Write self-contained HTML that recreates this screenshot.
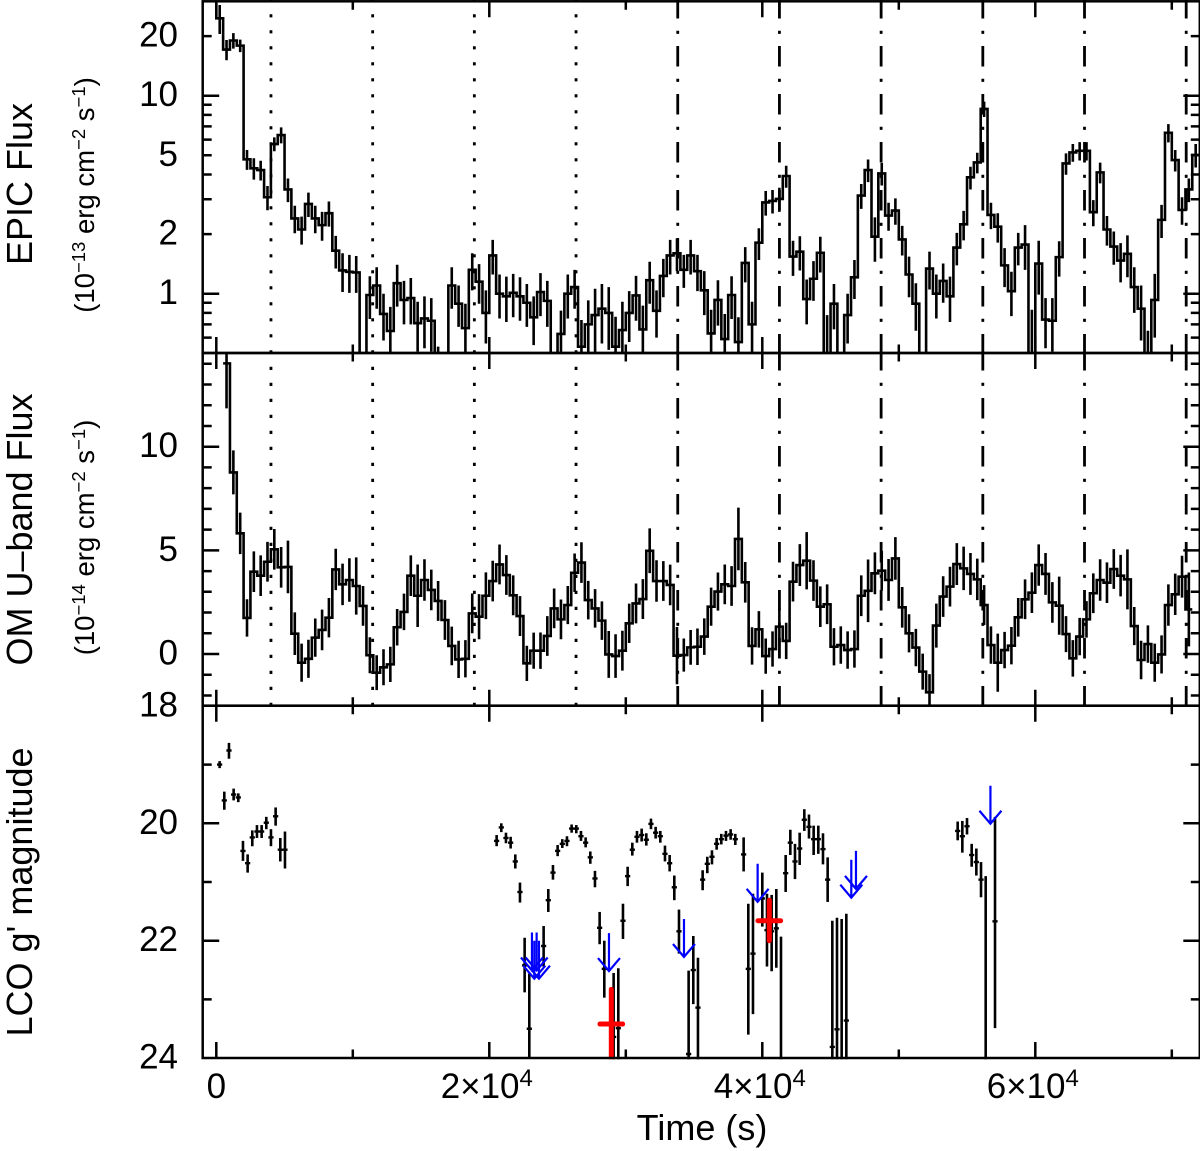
<!DOCTYPE html>
<html lang="en">
<head>
<meta charset="utf-8">
<title>EPIC, OM and LCO light curves</title>
<style>
html,body{margin:0;padding:0;background:#fff;}
svg{display:block;}
text{font-family:"Liberation Sans",Arial,sans-serif;fill:#000;}
.tick{font-size:35px;}
.title{font-size:36px;}
.sub{font-size:27.5px;}
.sup{font-size:18.5px;}
.xsup{font-size:24px;}
</style>
</head>
<body>
<svg id="chart" xmlns="http://www.w3.org/2000/svg" width="1200" height="1151" viewBox="0 0 1200 1151">
  <defs>
    <clipPath id="clip-epic"><rect x="202.7" y="1.3" width="998" height="351.7"/></clipPath>
    <clipPath id="clip-om"><rect x="202.7" y="353" width="998" height="352.7"/></clipPath>
    <clipPath id="clip-lco"><rect x="202.7" y="705.7" width="998" height="353.5"/></clipPath>
  </defs>
  <rect x="0" y="0" width="1200" height="1151" fill="#fff"/>
  <g id="fold-lines"></g>
  <g id="epic-marks" clip-path="url(#clip-epic)"></g>
  <g id="om-marks" clip-path="url(#clip-om)"></g>
  <g id="lco-marks" clip-path="url(#clip-lco)"></g>
  <g id="axes"></g>
  <g id="labels"></g>

  <text class="title" transform="translate(32,184) rotate(-90)" text-anchor="middle">EPIC Flux</text>
  <text class="sub" transform="translate(94,195) rotate(-90)" text-anchor="middle">(10<tspan class="sup" dy="-9">−13</tspan><tspan dy="9"> erg cm</tspan><tspan class="sup" dy="-9">−2</tspan><tspan dy="9"> s</tspan><tspan class="sup" dy="-9">−1</tspan><tspan dy="9">)</tspan></text>
  <text class="title" transform="translate(32,529.5) rotate(-90)" text-anchor="middle">OM U–band Flux</text>
  <text class="sub" transform="translate(94,537.5) rotate(-90)" text-anchor="middle">(10<tspan class="sup" dy="-9">−14</tspan><tspan dy="9"> erg cm</tspan><tspan class="sup" dy="-9">−2</tspan><tspan dy="9"> s</tspan><tspan class="sup" dy="-9">−1</tspan><tspan dy="9">)</tspan></text>
  <text class="title" transform="translate(32,892) rotate(-90)" text-anchor="middle">LCO g' magnitude</text>
  <text class="title" x="702" y="1140" text-anchor="middle">Time (s)</text>
</svg>
<script>
// EPIC flux per 500 s bin (10^-13 erg cm^-2 s^-1)
const epicFlux=[24.6,17.1,19.0,17.9,4.77,4.30,4.21,3.07,5.70,6.33,3.36,2.40,2.11,2.84,2.40,2.22,2.55,1.65,1.31,1.29,1.28,0.36,0.985,1.10,0.79,0.648,1.13,0.93,0.95,0.71,0.75,0.73,0.42,0.30,1.10,0.89,0.67,1.32,1.15,0.80,1.56,1.00,0.97,1.01,0.97,0.90,0.76,1.02,0.92,0.38,0.626,1.00,1.08,0.54,0.70,0.78,0.84,0.80,0.54,0.655,0.80,0.98,0.66,1.17,0.82,1.23,1.56,1.60,1.32,1.56,1.30,1.04,0.63,0.93,0.59,0.985,0.57,1.43,0.70,1.81,2.89,2.94,3.01,3.93,1.54,1.63,0.94,1.19,1.61,0.45,0.89,0.30,0.78,1.21,3.13,4.21,1.94,4.05,2.48,2.63,1.88,1.25,0.89,0.35,1.34,1.00,1.16,0.97,1.71,2.24,3.87,4.60,8.57,2.50,2.18,1.39,1.03,1.71,1.77,0.45,1.42,0.74,0.73,1.53,4.55,5.17,5.27,5.27,2.58,4.10,2.11,1.73,1.47,1.59,1.08,0.84,0.45,0.93,2.36,6.50,4.73,2.65,3.36,5.02];
const epicErr=[4.1,2.0,1.7,1.3,0.55,0.53,0.48,0.43,0.46,0.59,0.46,0.38,0.34,0.40,0.38,0.37,0.37,0.31,0.29,0.28,0.27,0.08,0.24,0.26,0.21,0.21,0.27,0.23,0.25,0.20,0.22,0.22,0.12,0.10,0.26,0.21,0.22,0.28,0.26,0.24,0.31,0.25,0.25,0.25,0.24,0.22,0.21,0.25,0.24,0.10,0.195,0.25,0.24,0.197,0.225,0.28,0.28,0.28,0.225,0.255,0.23,0.25,0.21,0.28,0.22,0.27,0.31,0.30,0.25,0.31,0.27,0.26,0.20,0.24,0.20,0.24,0.19,0.29,0.21,0.33,0.41,0.40,0.42,0.50,0.31,0.32,0.24,0.27,0.33,0.33,0.23,0.10,0.22,0.27,0.45,0.55,0.49,0.53,0.40,0.40,0.32,0.29,0.24,0.10,0.29,0.25,0.26,0.25,0.32,0.38,0.51,0.55,0.76,0.38,0.37,0.31,0.26,0.32,0.45,0.38,0.43,0.21,0.22,0.31,0.56,0.53,0.56,0.56,0.39,0.49,0.36,0.33,0.33,0.38,0.28,0.26,0.20,0.33,0.45,0.69,0.59,0.42,0.46,0.68];

// OM U-band flux per 500 s bin (10^-14 erg cm^-2 s^-1); null = no bin
const omFlux=[null,14.02,8.76,5.82,1.74,3.97,3.78,4.45,5.05,4.18,4.20,0.98,-0.42,-0.23,0.79,1.16,1.75,4.08,3.36,3.57,3.28,2.32,-0.06,-0.90,-0.64,-0.50,1.29,2.03,3.78,2.81,3.57,3.09,2.56,1.64,0.39,-0.26,-0.23,1.96,1.80,2.81,3.52,4.32,3.81,2.83,1.83,-0.45,0.16,0.16,0.87,2.20,1.67,2.36,3.92,4.41,2.60,2.20,1.61,-0.02,-0.10,0.16,1.48,2.44,2.65,4.98,3.52,3.52,3.33,-0.08,-0.05,0.32,0.35,0.84,2.28,3.01,3.36,3.28,5.55,3.46,0.39,1.19,-0.10,0.24,1.32,0.63,3.49,4.29,4.50,3.54,2.28,2.40,0.35,0.43,0.19,0.24,2.81,3.05,3.89,4.02,3.57,4.61,2.25,1.00,0.31,-0.85,-1.85,1.37,2.77,3.25,4.34,4.13,3.86,3.60,2.36,0.43,-0.42,0.19,0.40,1.77,2.64,2.96,4.29,3.86,2.49,2.33,0.96,-0.21,0.84,1.67,2.93,3.57,3.44,4.10,3.78,3.60,1.35,-0.29,0.48,-0.42,-0.02,2.36,2.88,3.73,2.15,null];
const omErr=[null,2.17,1.06,1.00,0.90,0.98,0.98,0.96,0.98,0.98,1.27,1.03,0.92,0.92,0.92,0.98,0.95,1.00,1.00,1.05,1.38,0.96,0.87,0.84,0.87,0.85,0.88,0.88,0.98,1.51,1.00,0.98,0.96,0.96,0.93,0.90,0.90,0.96,1.09,1.13,0.98,0.96,0.96,0.96,0.96,0.85,0.87,0.88,0.96,0.96,0.96,0.92,0.93,0.98,0.93,0.93,0.93,1.13,1.05,0.96,0.95,0.96,0.96,1.08,1.00,0.96,0.98,1.38,0.80,0.84,0.88,0.88,0.92,0.92,0.96,0.96,1.51,0.98,0.90,0.88,0.85,0.85,0.88,0.88,0.96,1.01,1.38,0.98,0.98,0.96,0.90,0.90,0.90,0.90,0.98,1.51,1.01,0.96,1.01,1.03,0.98,0.92,0.90,0.87,0.88,1.06,0.98,0.96,1.01,1.05,1.01,1.00,0.96,0.90,1.40,0.88,0.90,0.93,0.96,0.98,1.00,1.01,0.98,1.40,0.87,0.88,0.90,0.88,0.96,1.00,0.98,0.96,1.00,1.45,0.92,0.93,0.90,0.92,0.92,1.00,1.00,1.01,1.78,null];

// LCO g' photometry
const lcoTime=[244,586,928,1270,1612,1954,2296,2637,2979,3321,3663,4005,4347,4689,5031,20537,20879,21221,21563,21905,22247,22589,22931,23980,24322,24664,25006,25348,25690,26032,26374,26716,27058,27399,27741,28083,28425,29109,29451,29793,30135,30477,30819,31161,31503,31844,32186,32528,32870,33212,33554,33896,34603,34945,35287,35629,35971,36313,36655,36997,37339,37680,38022,38633,38975,39317,40001,40343,40685,41027,41369,41711,42053,42395,42737,43078,43420,43762,44104,44446,44788,45130,45472,45814,46156,54313,54655,54997,55339,55681,56023,56365,57049];
const lcoMag=[19.00,19.61,18.76,19.51,19.56,20.47,20.68,20.24,20.14,20.14,19.99,20.24,19.88,20.45,20.45,20.30,20.07,20.25,20.33,20.65,21.17,22.42,23.50,22.09,21.31,20.84,20.47,20.35,20.30,20.09,20.09,20.22,20.33,20.58,20.94,21.78,22.48,23.64,23.49,21.66,20.90,20.45,20.23,20.20,20.28,20.01,20.16,20.22,20.52,20.68,21.09,21.84,23.93,22.50,23.14,20.96,20.69,20.57,20.35,20.27,20.21,20.19,20.27,20.53,22.48,22.22,21.28,21.82,21.84,21.79,24.50,20.85,20.33,20.65,20.43,19.94,20.06,20.27,20.27,20.44,20.96,23.81,23.51,24.40,23.36,20.13,20.22,20.05,20.54,20.66,20.96,24.60,21.67];
const lcoErrBright=[0.06,0.15,0.13,0.10,0.07,0.17,0.15,0.12,0.11,0.11,0.10,0.14,0.15,0.20,0.31,0.10,0.07,0.09,0.10,0.12,0.16,0.47,0.94,0.34,0.19,0.13,0.10,0.08,0.08,0.07,0.06,0.09,0.09,0.10,0.13,0.27,0.48,1.09,1.02,0.29,0.16,0.12,0.10,0.11,0.11,0.09,0.10,0.09,0.14,0.14,0.20,0.37,1.42,0.58,0.85,0.16,0.12,0.11,0.10,0.09,0.08,0.09,0.09,0.29,1.11,1.02,0.44,0.62,0.62,0.67,2.57,0.31,0.22,0.30,0.27,0.18,0.21,0.23,0.23,0.27,0.38,2.15,1.90,2.77,1.82,0.16,0.26,0.14,0.19,0.23,0.30,3.70,1.78];
const lcoErrFaint=[0.06,0.16,0.14,0.10,0.08,0.17,0.16,0.15,0.11,0.11,0.11,0.15,0.16,0.20,0.32,0.09,0.08,0.09,0.10,0.12,0.18,0.46,0.50,0.35,0.20,0.12,0.09,0.07,0.09,0.07,0.08,0.08,0.08,0.11,0.15,0.28,0.49,0.60,0.60,0.31,0.17,0.10,0.10,0.11,0.10,0.09,0.10,0.11,0.13,0.14,0.22,0.38,0.40,0.58,0.90,0.18,0.16,0.13,0.10,0.09,0.09,0.09,0.10,0.29,1.12,1.03,0.48,0.62,0.68,0.67,1.00,0.32,0.21,0.30,0.28,0.19,0.20,0.27,0.25,0.26,0.38,0.50,0.60,1.00,0.80,0.16,0.28,0.14,0.20,0.23,0.30,1.00,1.82];

// Highlighted LCO detections (red)
const redTime=[28938,40513];
const redMag=[23.42,21.66];
const redErrBright=[0.59,0.35];
const redErrFaint=[0.62,0.34];
const redTimeErr=[830,830];

// LCO upper limits (blue arrows)
const limitTime=[23125,23297,23468,23638,28767,34262,39658,46520,46862,56713];
const limitMag=[21.86,22.00,21.86,22.00,21.87,21.63,20.69,20.62,20.47,19.36];

// Orbital-phase reference times; the first four are dotted, the rest dash-dot
const foldTimes=[4005,11455,18905,26355,33805,41255,48705,56155,63605,71055];
const dottedFoldCount=4;

// Tick values and printed labels
const xMajorTicks=[0,20000,40000,60000];
const xMinorTicks=[10000,30000,50000,70000];
const xTickMantissa=["0","2","4","6"];
const epicMajorTicks=[1,10];
const epicMinorTicks=[0.6,0.7,0.8,0.9,2,3,4,5,6,7,8,9,20];
const epicTickLabels=[1,2,5,10,20];
const omMajorTicks=[0,5,10];
const omMinorTicks=[-2,-1,1,2,3,4,6,7,8,9,11,12,13,14];
const omTickLabels=[0,5,10];
const lcoMajorTicks=[20,22,24];
const lcoMinorTicks=[19,21,23];
const lcoTickLabels=[18,20,22,24];

const SVGNS="http://www.w3.org/2000/svg";
const LEFT=202.7,RIGHT=1199.8;
const P1TOP=1.3,P1BOT=353,P2BOT=705.7,P3BOT=1058;
const BIN_START=0,BIN_WIDTH=500;
const xScale=t=>216.3+t*0.01365;
const yEpic=f=>293.7-198*Math.log10(f);
const yOm=v=>654-20.73*v;
const yLco=m=>823.3+(m-20)*58.7;

function mk(parent,tag,attrs){
  const e=document.createElementNS(SVGNS,tag);
  for(const k in attrs){e.setAttribute(k,attrs[k]);}
  parent.appendChild(e);
  return e;
}
const foldG=document.getElementById('fold-lines');
const epicG=document.getElementById('epic-marks');
const omG=document.getElementById('om-marks');
const lcoG=document.getElementById('lco-marks');
const axesG=document.getElementById('axes');
const labelsG=document.getElementById('labels');

// Phase reference lines
foldTimes.forEach(function(t,i){
  const x=xScale(t);
  const dotted=i<dottedFoldCount;
  const upper=mk(foldG,'line',{x1:x,x2:x,y1:0,y2:P1BOT,stroke:'#000','stroke-width':2.8,
    'stroke-dasharray':dotted?'3.2 12.8':'20.5 12.2 3.2 12.1','stroke-dashoffset':dotted?1.8:2});
  
  
  const lower=mk(foldG,'line',{x1:x,x2:x,y1:P1BOT,y2:P2BOT,stroke:'#000','stroke-width':2.8,
    'stroke-dasharray':dotted?'3.2 12.8':'20.5 12.2 3.2 12.1','stroke-dashoffset':dotted?2.2:3});
  
  
});

// Step histogram + error bars from value arrays
function stepPath(vals,yFn,startAtTop){
  let d='';
  let open=false;
  vals.forEach(function(v,k){
    if(v===null){return;}
    const x0=xScale(BIN_START+BIN_WIDTH*k);
    const x1=xScale(BIN_START+BIN_WIDTH*(k+1));
    const y=yFn(v);
    if(!open){
      d+=startAtTop?('M'+x0+' 0L'+x0+' '+y):('M'+x0+' '+y);
      open=true;
    }else{
      d+='L'+x0+' '+y;
    }
    d+='L'+x1+' '+y;
  });
  return d;
}
function barsPath(vals,errs,yFn){
  let d='';
  vals.forEach(function(v,k){
    if(v===null){return;}
    const x=xScale(BIN_START+BIN_WIDTH*(k+0.5));
    const lo=v-errs[k];
    const yLow=yFn(lo>0||yFn===yOm?lo:v*0.05);
    d+='M'+x+' '+yFn(v+errs[k])+'L'+x+' '+yLow;
  });
  return d;
}
const epicBars=mk(epicG,'path',{d:barsPath(epicFlux,epicErr,yEpic),fill:'none',stroke:'#000','stroke-width':2.6});


const epicStep=mk(epicG,'path',{d:stepPath(epicFlux,yEpic,true),fill:'none',stroke:'#000','stroke-width':2.6});


const omBars=mk(omG,'path',{d:barsPath(omFlux,omErr,yOm),fill:'none',stroke:'#000','stroke-width':2.6});


const omStep=mk(omG,'path',{d:stepPath(omFlux,yOm,false),fill:'none',stroke:'#000','stroke-width':2.6});



// LCO photometry
lcoTime.forEach(function(t,i){
  const x=xScale(t);
  const m=lcoMag[i];
  const bar=mk(lcoG,'line',{x1:x,x2:x,y1:yLco(m-lcoErrBright[i]),y2:yLco(m+lcoErrFaint[i]),stroke:'#000','stroke-width':2.6});
  
  
  const cap=mk(lcoG,'line',{x1:xScale(t-190),x2:xScale(t+190),y1:yLco(m),y2:yLco(m),stroke:'#000','stroke-width':2.4});
  
  
});
limitTime.forEach(function(t,i){
  const x=xScale(t);
  const y=yLco(limitMag[i]);
  const arrow=mk(lcoG,'path',{d:'M'+x+' '+y+'L'+x+' '+(y+38)+'M'+(x-11)+' '+(y+25)+'L'+x+' '+(y+38)+'L'+(x+11)+' '+(y+25),
    fill:'none',stroke:'#0000ff','stroke-width':2.2});
  
  
});
redTime.forEach(function(t,i){
  const x=xScale(t);
  const m=redMag[i];
  const rv=mk(lcoG,'line',{x1:x,x2:x,y1:yLco(m-redErrBright[i]),y2:yLco(m+redErrFaint[i]),stroke:'#ff0000','stroke-width':5,'stroke-linecap':'round'});
  
  
  const rh=mk(lcoG,'line',{x1:xScale(t-redTimeErr[i]),x2:xScale(t+redTimeErr[i]),y1:yLco(m),y2:yLco(m),stroke:'#ff0000','stroke-width':5,'stroke-linecap':'round'});
  
  
});

// Axes
function tickSegments(top,bot,yMajor,yMinor){
  let d='';
  xMajorTicks.forEach(function(t){const x=xScale(t);d+='M'+x+' '+top+'v16M'+x+' '+bot+'v-16';});
  xMinorTicks.forEach(function(t){const x=xScale(t);d+='M'+x+' '+top+'v8.5M'+x+' '+bot+'v-8.5';});
  yMajor.forEach(function(y){d+='M'+LEFT+' '+y+'h16.5M'+RIGHT+' '+y+'h-16.5';});
  yMinor.forEach(function(y){d+='M'+LEFT+' '+y+'h9M'+RIGHT+' '+y+'h-9';});
  return d;
}
const panels=[
  {name:'epic',top:P1TOP,bot:P1BOT,maj:epicMajorTicks.map(yEpic),min:epicMinorTicks.map(yEpic)},
  {name:'om',top:P1BOT,bot:P2BOT,maj:omMajorTicks.map(yOm),min:omMinorTicks.map(yOm)},
  {name:'lco',top:P2BOT,bot:P3BOT,maj:lcoMajorTicks.filter(function(m){return m<24;}).map(yLco),min:lcoMinorTicks.map(yLco)}
];
panels.forEach(function(p){
  const frame=mk(axesG,'rect',{x:LEFT,y:p.top,width:RIGHT-LEFT,height:p.bot-p.top,fill:'none',stroke:'#000','stroke-width':2.5});
  
  
  const ticks=mk(axesG,'path',{d:tickSegments(p.top,p.bot,p.maj,p.min),fill:'none',stroke:'#000','stroke-width':2.5});
  
  
});

// Y tick labels
function yLabels(values,yFn,name){
  values.forEach(function(v){
    const t=mk(labelsG,'text',{class:'tick',x:178,y:yFn(v)+10.5,'text-anchor':'end'});
    
    
    t.textContent=String(v);
  });
}
yLabels(epicTickLabels,yEpic,'epic-y-tick-label');
yLabels(omTickLabels,yOm,'om-y-tick-label');
yLabels(lcoTickLabels,yLco,'lco-y-tick-label');

// X tick labels
xMajorTicks.forEach(function(t,i){
  const label=mk(labelsG,'text',{class:'tick','text-anchor':'middle',x:xScale(t)-(i?2.5:0),y:1098});
  
  
  if(t===0){label.textContent=xTickMantissa[i];return;}
  label.textContent=xTickMantissa[i]+'×10';
  const s=mk(label,'tspan',{class:'xsup',dy:-12});
  s.textContent=String(Math.round(Math.log10(t/Number(xTickMantissa[i]))));
});
</script>
</body>
</html>
